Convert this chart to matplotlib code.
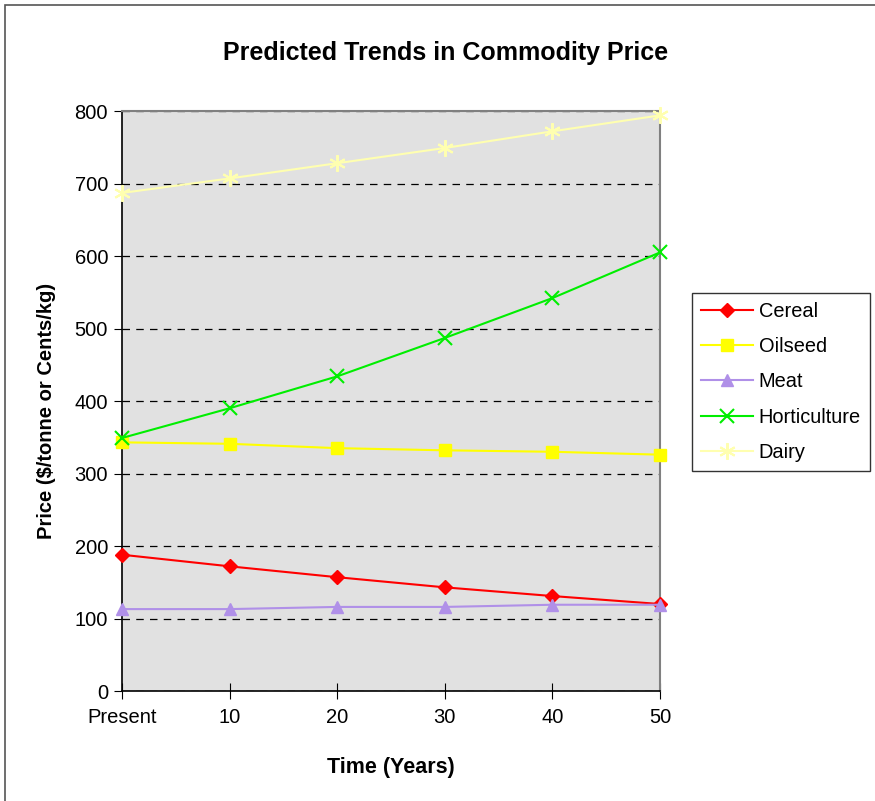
import numpy as np
import matplotlib.pyplot as plt
from matplotlib.patches import Rectangle

plt.rcParams['font.family'] = ['Liberation Sans', 'DejaVu Sans']

zaman = ['Present', '10', '20', '30', '40', '50']
cereal = [188, 172, 157, 143, 131, 120]
oilseed = [343, 341, 335, 332, 330, 326]
meat = [113, 113, 116, 116, 119, 119]
horticulture = [349, 390, 434, 487, 542, 605]
dairy = [687, 707, 728, 749, 772, 794]

x = np.arange(len(zaman))

fig = plt.figure(figsize=(8.75, 8.01), dpi=100)
ax = fig.add_axes([0.1394, 0.1373, 0.6149, 0.7241])
ax.set_facecolor('#E1E1E1')

# figure frame (only top/left visible in reference)
fig.patches.append(Rectangle((5 / 875, -0.05), 1.2, 1 - 5 / 801 + 0.05, transform=fig.transFigure,
                             fill=False, edgecolor='#555555', linewidth=1.2))

seriler = [
    ('Cereal', cereal, '#FF0000', 'D', 7, None),
    ('Oilseed', oilseed, '#FFFF00', 's', 9, None),
    ('Meat', meat, '#B090E8', '^', 9, None),
    ('Horticulture', horticulture, '#00EE00', 'x', 10, 1.5),
    ('Dairy', dairy, '#FFFFB0', (6, 2, 0), 12, 1.5),
]
for ad, deger, renk, mk, ms, mew in seriler:
    kw = {}
    if mew is not None:
        kw['markeredgewidth'] = mew
    ax.plot(x, deger, color=renk, marker=mk, markersize=ms, linewidth=1.5,
            label=ad, clip_on=False, zorder=3, **kw)

ax.set_xlim(0, 5)
ax.set_ylim(0, 800)
ax.set_yticks(range(0, 801, 100))
ax.set_xticks(x)
ax.set_xticklabels(zaman)
ax.yaxis.grid(True, color='black', linestyle=(0, (6, 5)), linewidth=0.9)
ax.set_axisbelow(True)

for s in ['top', 'right']:
    ax.spines[s].set_color('#808080')
    ax.spines[s].set_linewidth(1.5)
ax.spines['left'].set_linewidth(1.2)
ax.spines['bottom'].set_linewidth(1.2)

ax.tick_params(axis='y', direction='out', length=6, labelsize=14.5, pad=4)
ax.tick_params(axis='x', direction='inout', length=12, labelsize=14.5, pad=6)

fig.text(446 / 875, 1 - 53 / 801, 'Predicted Trends in Commodity Price', fontsize=18,
         fontweight='bold', ha='center', va='center')
ax.set_xlabel('Time (Years)', fontsize=15.5, fontweight='bold', labelpad=22)
ax.set_ylabel('Price ($/tonne or Cents/kg)', fontsize=14.5, fontweight='bold')
ax.yaxis.set_label_coords(-0.123, 0.483)

leg = ax.legend(loc='center left', bbox_to_anchor=(1.059, 0.533), fontsize=14.4, frameon=True,
                fancybox=False, edgecolor='black', handlelength=2.6, handletextpad=0.3,
                labelspacing=0.82, borderpad=0.45, borderaxespad=0)
leg.get_frame().set_linewidth(1.0)

plt.savefig('out.png', dpi=100)
